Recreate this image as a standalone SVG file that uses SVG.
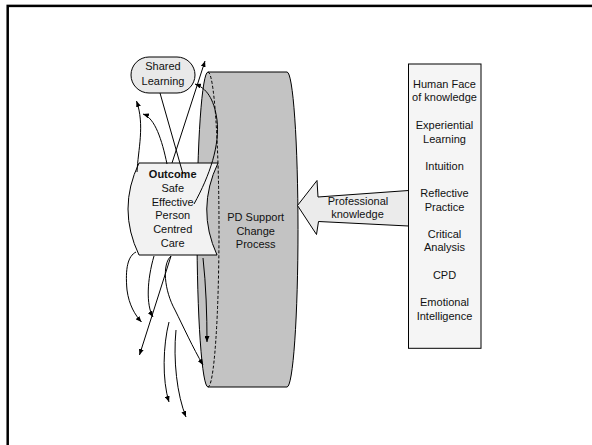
<svg xmlns="http://www.w3.org/2000/svg" width="592" height="445" viewBox="0 0 592 445">
<defs>
<style>
text{font-family:"Liberation Sans",Arial,sans-serif;font-size:11px;fill:#111;text-anchor:middle}
.b{font-weight:bold}
.shape{stroke:#000;stroke-width:1}
.conn{fill:none;stroke:#000;stroke-width:1}
.arr{marker-end:url(#ah)}
</style>
<marker id="ah" markerUnits="userSpaceOnUse" markerWidth="7" markerHeight="5" refX="6" refY="2.5" orient="auto">
<path d="M0,0 L6,2.5 L0,5 Z" fill="#000"/>
</marker>
</defs>
<rect id="frame" x="7.7" y="5.9" width="620" height="460" fill="none" stroke="#000" stroke-width="2.5"/>
<g id="pd-support">
<path class="shape" fill="#c3c3c3" d="M208,72 L287,72 A11,157.5 0 0 1 287,387 L208,387 A11,157.5 0 0 1 208,72 Z"/>
<path fill="none" stroke="#000" stroke-width="1" stroke-dasharray="3,2" d="M208,72 A11,157.5 0 0 1 208,387"/>
<text x="255.7" y="221.3">PD Support</text>
<text x="255.7" y="234.7">Change</text>
<text x="255.7" y="248">Process</text>
</g>
<g id="professional-knowledge">
<path class="shape" fill="#ebebeb" d="M297.5,205.5 L317,180.5 L318,197 L408.5,190.5 L408.5,226 L318.5,221.5 L316.5,234.5 Z"/>
<text x="358" y="205.3">Professional</text>
<text x="357.5" y="217.7">knowledge</text>
</g>
<g id="knowledge-list">
<rect class="shape" fill="#f5f5f5" x="408.5" y="64" width="72.5" height="284.3"/>
<text x="444.5" y="88">Human Face</text>
<text x="444.5" y="101">of knowledge</text>
<text x="444.5" y="129">Experiential</text>
<text x="444.5" y="143">Learning</text>
<text x="444.5" y="170">Intuition</text>
<text x="444.5" y="197">Reflective</text>
<text x="444.5" y="210.5">Practice</text>
<text x="444.5" y="237.5">Critical</text>
<text x="444.5" y="251">Analysis</text>
<text x="444.5" y="279">CPD</text>
<text x="444.5" y="306">Emotional</text>
<text x="444.5" y="319.5">Intelligence</text>
</g>
<g id="outcome">
<path class="shape" fill="#f2f2f2" d="M139,163 L218,163 Q196,209 217,255 L139,255 Q117,209 139,163 Z"/>
<text class="b" x="172.7" y="178.3">Outcome</text>
<text x="172.7" y="192">Safe</text>
<text x="172.7" y="205.7">Effective</text>
<text x="172.7" y="219.4">Person</text>
<text x="172.7" y="233.1">Centred</text>
<text x="172.7" y="246.8">Care</text>
</g>
<g id="shared-learning">
<rect class="shape" fill="#e9e9e9" x="131" y="57" width="64" height="36" rx="18" ry="18"/>
<text x="163" y="70.3">Shared</text>
<text x="163" y="84.8">Learning</text>
</g>
<g id="connectors">
<path class="conn" d="M160,93 L183,174"/>
<path class="conn arr" d="M172,163 L205,61"/>
<path class="conn arr" d="M194,204 C210,175 220,145 217,120 C214,98 206,88 195,84"/>
<path class="conn arr" d="M137,172 C138,150 145,125 136.5,101"/>
<path class="conn arr" d="M167,164 C162,140 155,118 143,114"/>
<path class="conn arr" d="M136,252 C128,256 125,268 127,290 C129,305 135,315 141.5,322"/>
<path class="conn arr" d="M154,256 C147,280 146,305 153,317"/>
<path class="conn arr" d="M171,256 L139.5,355"/>
<path class="conn arr" d="M171,256 C162,264 164,290 175,310 C183,326 193,348 203,365"/>
<path class="conn arr" d="M169,322 C163,345 162,380 169,402"/>
<path class="conn arr" d="M176,330 C173,360 177,395 186,417"/>
<path class="conn arr" d="M203,258 C206,285 207,315 207,342"/>
</g>
</svg>
